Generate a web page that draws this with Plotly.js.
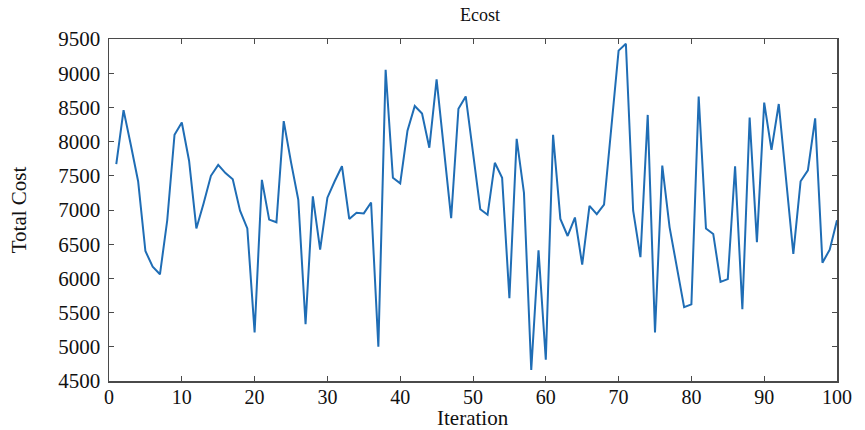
<!DOCTYPE html>
<html>
<head>
<meta charset="utf-8">
<script src="https://cdn.plot.ly/plotly-3.0.1.min.js"></script>
<style>html,body{margin:0;padding:0;background:#fff;}#chart{width:865px;height:430px;}</style>
</head>
<body>
<div id="chart"></div>
<script>
const iterations = [];
for (let i = 1; i <= 100; i++) iterations.push(i);
const totalCost = [
  7670, 8460, 7950, 7420, 6400, 6170, 6060, 6850, 8100, 8280,
  7720, 6730, 7100, 7500, 7660, 7540, 7450, 6990, 6730, 5210,
  7440, 6860, 6820, 8300, 7700, 7150, 5330, 7200, 6420, 7180,
  7420, 7640, 6870, 6960, 6950, 7110, 5000, 9050, 7470, 7390,
  8160, 8520, 8410, 7910, 8910, 7900, 6880, 8480, 8660, 7840,
  7010, 6930, 7690, 7470, 5710, 8040, 7250, 4660, 6410, 4810,
  8100, 6870, 6620, 6890, 6200, 7060, 6940, 7080, 8200, 9330,
  9430, 6990, 6310, 8390, 5210, 7650, 6750, 6170, 5580, 5620,
  8660, 6730, 6650, 5950, 5990, 7640, 5550, 8350, 6530, 8570,
  7880, 8550, 7450, 6360, 7420, 7580, 8340, 6230, 6420, 6850
];
const xTicks = [0,10,20,30,40,50,60,70,80,90,100];
const yTicks = [4500,5000,5500,6000,6500,7000,7500,8000,8500,9000,9500];

const fam = '"Liberation Serif", "Times New Roman", serif';
const font = {family: fam, color: '#111', size: 21};
const axisCommon = {
  showgrid: false, zeroline: false, showline: true, linecolor: '#4a4a4a', linewidth: 1.5,
  mirror: 'ticks', ticks: 'inside', ticklen: 5, tickwidth: 1, tickcolor: '#4a4a4a',
  tickfont: font
};
Plotly.newPlot('chart', [{
  x: iterations, y: totalCost, type: 'scatter', mode: 'lines',
  line: {color: '#1f6db5', width: 2}
}], {
  width: 865, height: 430,
  margin: {l: 108.5, r: 27.5, t: 39, b: 48.5},
  paper_bgcolor: '#fff', plot_bgcolor: '#fff',
  font: font,
  showlegend: false,
  title: {text: 'Ecost', font: {family: fam, size: 18, color: '#111'}, x: 0.555, xanchor: 'center', y: 0.965, yanchor: 'middle'},
  xaxis: Object.assign({}, axisCommon, {range: [0, 100], tickvals: xTicks, ticktext: xTicks.map(String),
    tickfont: {family: fam, color: '#111', size: 20}, ticklabelstandoff: -3}),
  yaxis: Object.assign({}, axisCommon, {range: [4500, 9500], tickvals: yTicks, ticktext: yTicks.map(String),
    ticklabelstandoff: 3,
    title: {text: 'Total Cost', font: {family: fam, size: 21, color: '#111'}, standoff: 26}}),
  annotations: [{
    text: 'Iteration', xref: 'paper', yref: 'paper', x: 0.5, y: -0.108,
    xanchor: 'center', yanchor: 'middle', showarrow: false,
    font: {family: fam, size: 21, color: '#111'}
  }]
}, {displayModeBar: false, staticPlot: true});
</script>
</body>
</html>
